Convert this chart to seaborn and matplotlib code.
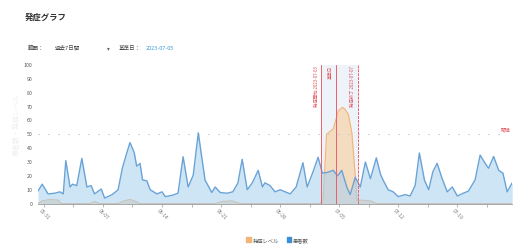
import matplotlib
matplotlib.use("Agg")
import matplotlib.pyplot as plt
import seaborn as sns
import pandas as pd

# days counted from 05-31
patient_days = [-0.7, -0.2, 0.5, 1.3, 1.9, 2.3, 2.6, 3.1, 3.4, 3.9, 4.5, 5.1, 5.6, 6.0, 6.8,
                7.2, 8.1, 8.8, 9.3, 9.8, 10.2, 10.7, 11.0, 11.4, 11.7, 12.2, 12.6, 13.4, 14.0,
                14.4, 15.2, 15.9, 16.5, 17.1, 17.7, 18.3, 19.1, 19.9, 20.3, 20.9, 21.7, 22.4,
                23.0, 23.5, 24.1, 24.7, 25.4, 25.9, 26.2, 26.8, 27.4, 28.0, 28.6, 29.2, 29.9,
                30.7, 31.2, 31.9, 32.5, 33.0, 33.6, 34.3, 34.8, 35.3, 35.9, 36.3, 36.9, 37.5,
                38.1, 38.7, 39.4, 39.9, 40.2, 40.8, 41.4, 42.0, 42.8, 43.4, 44.0, 44.5, 45.1,
                45.6, 46.1, 46.6, 47.2, 47.8, 48.4, 49.0, 49.7, 50.3, 51.1, 51.7, 52.3, 52.7,
                53.3, 53.9, 54.4, 54.9, 55.5]
patients = [9, 14, 7, 7.5, 8.5, 7, 31, 12, 14, 13, 32.6, 12, 13, 7, 10.5,
            4, 6.5, 10, 25.6, 36, 44, 37, 27, 29, 17, 16.5, 10, 7, 8.5,
            5, 6, 7.5, 33.8, 12, 20.5, 51, 17, 8, 12, 8, 7.5, 8.5,
            15, 32, 10, 15, 24, 12, 15, 13, 8.5, 10, 8.5, 7, 12,
            29.5, 12, 23, 33.5, 22, 22.5, 24, 20, 24, 12, 6.5, 19, 12,
            30, 18, 33, 21, 17, 10, 8.5, 5, 6.5, 5.5, 13, 36.5, 17,
            10, 23, 29, 18, 8.5, 12, 5.5, 7.5, 9, 17, 35, 29, 25.5,
            34, 24, 22, 8.5, 15]

onset_days = [-0.7, -0.2, 0.7, 1.7, 2.1, 5.5, 6.0, 6.6, 8.8, 9.5, 10.2, 10.9, 11.4, 20.3,
              21.1, 22.3, 23.3, 32.7, 33.1, 33.5, 34.3, 34.9, 35.4, 35.7, 36.1, 36.5, 36.9,
              37.1, 37.7, 38.7, 39.4, 55.5]
onset_level = [0, 2, 3, 2.5, 0, 0, 1.5, 0, 0, 2, 3, 1.5, 0, 0,
               1.5, 2, 0, 0, 3, 50, 54, 67, 69.5, 68, 64, 51, 20,
               2, 2.5, 2, 0, 0]

tick_days = [0, 7, 14, 21, 28, 35, 42, 49]
tick_labels = ["05-31", "06-07", "06-14", "06-21", "06-28", "07-05", "07-12", "07-19"]
event_days = [32.9, 34.6, 37.2]
event_labels = ["発症開始 2023-07-03", "基準日", "発症終了 2023-07-07"]
threshold = 50

blue = pd.DataFrame({"day": patient_days, "value": patients})
orange = pd.DataFrame({"day": onset_days, "value": onset_level})

sns.set_theme(style="white")
plt.rcParams["font.family"] = ["Noto Sans CJK JP", "DejaVu Sans"]

fig = plt.figure(figsize=(5.2, 2.48), dpi=100)
ax = fig.add_axes([0.073, 0.179, 0.912, 0.559])

# highlighted onset window
ax.axvspan(event_days[0], event_days[2], facecolor="#edf3f9", lw=0, zorder=0)

ax.fill_between(orange["day"], orange["value"], color="#f6d8b6", alpha=0.85, lw=0, zorder=1)
sns.lineplot(data=orange, x="day", y="value", color="#f2b477", lw=0.8, ax=ax, zorder=2)
ax.fill_between(blue["day"], blue["value"], color="#a6d0f0", alpha=0.55, lw=0, zorder=3)
sns.lineplot(data=blue, x="day", y="value", color="#6aa3d6", lw=1.0, ax=ax, zorder=4)

ax.axhline(threshold, color="#b8b8b8", lw=0.8, ls=(0, (1, 8)), xmax=0.975, zorder=1)
ax.text(55.3, threshold + 1.5, "閾値", color="#e0505a", fontsize=3.5, ha="right", va="bottom")

for i, d in enumerate(event_days):
    ax.axvline(d, color="#ea5f6a", lw=0.7, ls="-" if i < 2 else (0, (3, 1)), zorder=6)
    ax.text(d - 0.3, 99, event_labels[i], color="#e0505a", fontsize=3.2, rotation=90,
            ha="right", va="top")

ax.set_xlim(-0.7, 55.5)
ax.set_ylim(0, 100)
ax.set_yticks(range(0, 101, 10))
ax.set_xticks(tick_days)
ax.set_xticks([d + 3.5 for d in tick_days], minor=True)
ax.set_xticklabels(tick_labels, rotation=-45, ha="center", fontsize=3.5, color="#777777")
ax.tick_params(axis="y", labelsize=3.8, labelcolor="#555555", length=0, pad=4)
ax.tick_params(axis="x", which="both", bottom=True, length=2, width=0.5, color="#999999", pad=1)
ax.set_xlabel("")
ax.set_ylabel("")
for side in ["left", "right", "top"]:
    ax.spines[side].set_visible(False)
ax.spines["bottom"].set_color("#999999")
ax.spines["bottom"].set_linewidth(0.6)

fig.text(0.048, 0.92, "発症グラフ", fontsize=6, fontweight="bold", color="#333333")
fig.text(0.054, 0.8, "範囲：", fontsize=4, color="#444444")
fig.text(0.105, 0.8, "過去7日間", fontsize=4, color="#444444")
fig.text(0.205, 0.8, "▾", fontsize=4, color="#666666", family=["DejaVu Sans"])
fig.text(0.228, 0.8, "基準日：", fontsize=4, color="#444444")
fig.text(0.28, 0.8, "2023-07-05", fontsize=4, color="#3a9ad9")
fig.text(0.025, 0.5, "患者数・発症レベル", fontsize=5, color="#eeeeee", rotation=90,
         va="center")

# legend
fig.patches.append(plt.Rectangle((0.473, 0.025), 0.009, 0.02, color="#f2b477",
                                 transform=fig.transFigure, figure=fig))
fig.text(0.486, 0.022, "発症レベル", fontsize=3.8, color="#555555")
fig.patches.append(plt.Rectangle((0.551, 0.025), 0.009, 0.02, color="#3b8fd6",
                                 transform=fig.transFigure, figure=fig))
fig.text(0.564, 0.022, "患者数", fontsize=3.8, color="#555555")

fig.savefig("out.png", dpi=100)
